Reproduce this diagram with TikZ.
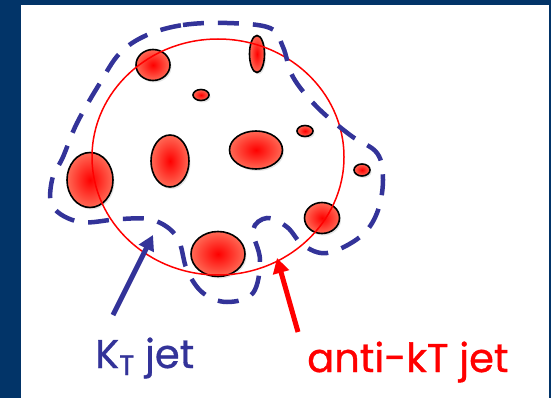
\documentclass[tikz,border=0pt]{standalone}
\usepackage{fontspec}
\setmainfont{Poppins}
\newfontfamily\labfont{Poppins}[FakeBold=0.8]
\usetikzlibrary{arrows.meta,shapes.geometric,shadows}
\definecolor{slidenavy}{RGB}{2,52,104}
\definecolor{ktblue}{RGB}{51,51,153}
\definecolor{blobedge}{RGB}{255,105,85}

\begin{document}
\begin{tikzpicture}[x=1pt, y=-1pt,
  blob/.style={ellipse, draw=black, line width=1.6pt, inner sep=0pt,
               shading=radial, inner color=red, outer color=blobedge,
               drop shadow={opacity=0.2, shadow xshift=1.5pt, shadow yshift=-2pt}},
  conebox/.style={red, line width=1.5pt},
  ktline/.style={ktblue, line width=4.5pt, dash pattern=on 21pt off 14pt},
  arr/.style={-{Triangle[length=15pt, width=16pt]}, line width=5pt},
  lab/.style={font=\labfont\fontsize{40}{40}\selectfont, inner sep=0pt, anchor=base west},
]

% ---- slide frame -----------------------------------------------------------
\useasboundingbox (0,0) rectangle (551,398);
\fill[slidenavy] (0,0) rectangle (551,398);
\fill[white] (21,5) rectangle (549,398);

% ---- particles -------------------------------------------------------------
\node[blob, minimum width=34pt, minimum height=31pt] (ptl) at (153,65) {};
\node[blob, minimum width=15pt, minimum height=37pt] (ptop) at (257,54) {};
\node[blob, minimum width=16pt, minimum height=11pt] (sdota) at (201,95) {};
\node[blob, minimum width=16pt, minimum height=11pt] (sdotb) at (305,131) {};
\node[blob, minimum width=16pt, minimum height=12pt] (sdotc) at (362,170) {};
\node[blob, minimum width=38pt, minimum height=52pt] (pmidl) at (170,161) {};
\node[blob, minimum width=53pt, minimum height=38pt] (pmidr) at (256,150) {};
\node[blob, minimum width=46pt, minimum height=55pt] (pleft) at (90,180) {};
\node[blob, minimum width=35pt, minimum height=31pt] (pbr) at (322,218) {};
\node[blob, minimum width=54pt, minimum height=45pt] (pbot) at (218,254) {};

% ---- anti-kT cone ----------------------------------------------------------
\draw[conebox] (218,157) ellipse [x radius=126, y radius=118];

% ---- kT jet outline --------------------------------------------------------
\draw[ktline] plot[smooth cycle, tension=0.6] coordinates {
  (147,35) (183,25) (227,23) (270,28) (283,47) (293,77) (317,107)
  (350,135) (377,153) (383,180) (377,213) (360,237) (327,253)
  (303,245) (287,227) (267,218) (253,230) (260,260) (253,293)
  (227,302) (203,293) (187,270) (177,237) (153,220) (120,219)
  (80,222) (53,207) (52,180) (63,157) (77,123) (100,83) (120,53)};

% ---- labels and arrows -----------------------------------------------------
\node[lab, ktblue] (ktlab) at (95,368)
  {K\raisebox{-7pt}{\scalebox{0.7}{T}} jet};
\node[lab, red] (aktlab) at (307,372) {anti-kT jet};

\coordinate (kttail) at (113,315);
\coordinate (kttip) at (153,235);
\coordinate (akttail) at (298,332);
\coordinate (akttip) at (277,258);
\draw[arr, ktblue] (kttail) -- (kttip);
\draw[arr, red] (akttail) -- (akttip);

\end{tikzpicture}
\end{document}
